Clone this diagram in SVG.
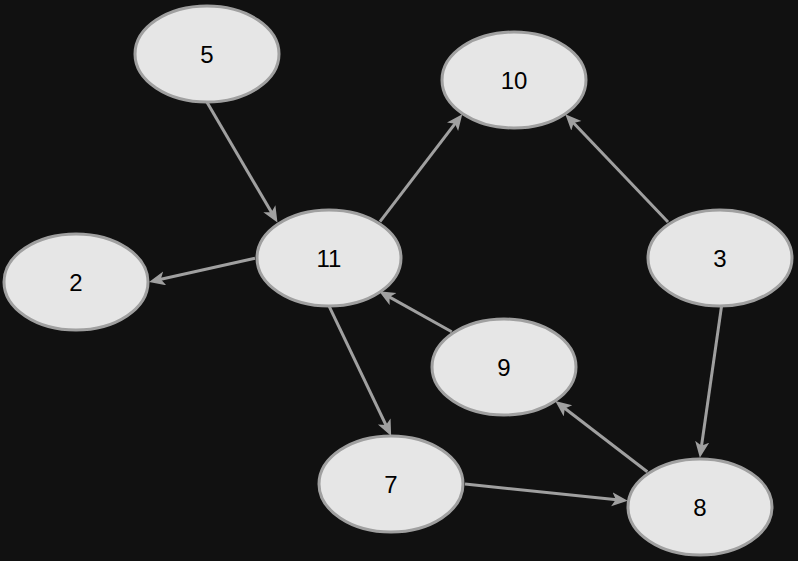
<svg xmlns="http://www.w3.org/2000/svg" width="798" height="561" viewBox="0 0 798 561">
<defs>
<marker id="arr" markerUnits="userSpaceOnUse" markerWidth="18" markerHeight="16" refX="5" refY="7" orient="auto">
<path d="M16,7 L0,0 L4,7 L0,14 z" fill="#a0a0a0"/>
</marker>
<style>
.n ellipse{fill:#e6e6e6;stroke:#a0a0a0;stroke-width:3}
.n text{font-family:"Liberation Sans",Arial,sans-serif;font-size:24px;fill:#000;text-anchor:middle;dominant-baseline:central}
.e line{stroke:#a0a0a0;stroke-width:3;marker-end:url(#arr)}
</style>
</defs>
<rect width="798" height="561" fill="#111111"/>
<g id="edges" class="e">
<line x1="206.7" y1="101.7" x2="271.9" y2="213.1"/>
<line x1="380" y1="221.7" x2="455.6" y2="122.9"/>
<line x1="668" y1="222" x2="572.9" y2="122.2"/>
<line x1="255" y1="258.3" x2="159.8" y2="279.5"/>
<line x1="721.7" y1="305" x2="701.4" y2="446.8"/>
<line x1="451.7" y1="331.7" x2="388.7" y2="296.6"/>
<line x1="329.3" y1="306.7" x2="386.4" y2="426"/>
<line x1="465" y1="484" x2="616.8" y2="499.7"/>
<line x1="647.3" y1="471.7" x2="564" y2="407.8"/>
</g>
<g id="node5" class="n"><ellipse cx="207" cy="54" rx="72" ry="48"/><text x="207" y="54">5</text></g>
<g id="node10" class="n"><ellipse cx="514" cy="80" rx="72" ry="48"/><text x="514" y="80">10</text></g>
<g id="node11" class="n"><ellipse cx="329" cy="258" rx="72" ry="48"/><text x="329" y="258">11</text></g>
<g id="node2" class="n"><ellipse cx="76" cy="282" rx="72" ry="48"/><text x="76" y="282">2</text></g>
<g id="node3" class="n"><ellipse cx="720" cy="258" rx="72" ry="48"/><text x="720" y="258">3</text></g>
<g id="node9" class="n"><ellipse cx="504" cy="367" rx="72" ry="48"/><text x="504" y="367">9</text></g>
<g id="node7" class="n"><ellipse cx="391" cy="484" rx="72" ry="48"/><text x="391" y="484">7</text></g>
<g id="node8" class="n"><ellipse cx="700" cy="507" rx="72" ry="48"/><text x="700" y="507">8</text></g>
</svg>
